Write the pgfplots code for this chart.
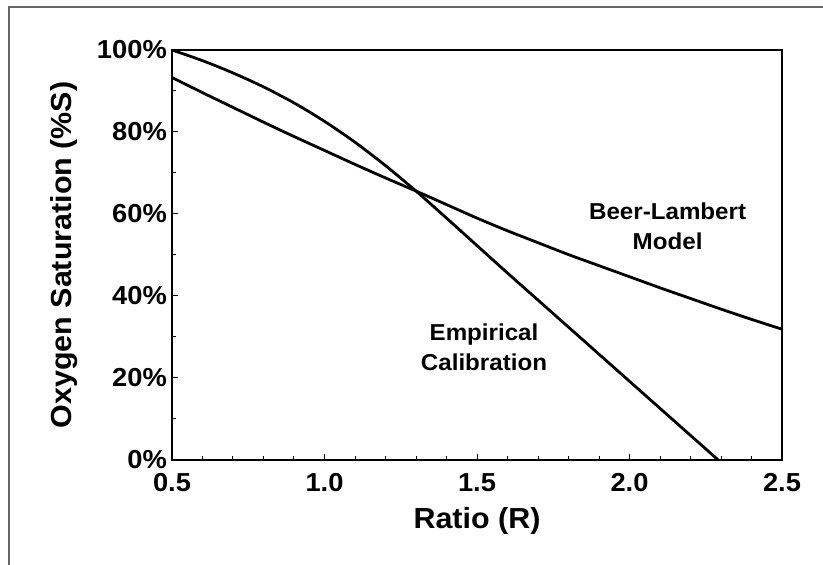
\documentclass[border=0pt]{standalone}
\usepackage{fontspec}
\setmainfont{Liberation Sans}[FakeStretch=1.05]
\usepackage{pgfplots}
\pgfplotsset{compat=1.18}
\begin{document}
\begin{tikzpicture}
\useasboundingbox (0pt,0pt) rectangle (823pt,565pt);
\draw[line width=1.3pt, color=black!60] (9pt,0pt) -- (9pt,558pt) -- (823pt,558pt);
\begin{axis}[
  at={(172pt,105pt)}, anchor=south west,
  width=610pt, height=410pt, scale only axis,
  xmin=0.5, xmax=2.5, ymin=0, ymax=100,
  axis line style={line width=1.5pt},
  xtick={0.5,1.0,1.5,2.0,2.5}, ytick={0,20,40,60,80,100},
  minor x tick num=4, minor y tick num=1,
  tick align=inside, xtick pos=bottom, ytick pos=left,
  major tick length=6pt, minor tick length=4pt,
  every tick/.style={line width=1pt, black},
  /pgf/number format/assume math mode=true,
  xticklabel style={/pgf/number format/fixed, /pgf/number format/fixed zerofill, /pgf/number format/precision=1, inner sep=1pt, yshift=-12pt},
  yticklabel style={inner sep=1pt, xshift=-4pt},
  ticklabel style={font=\fontsize{26}{26}\selectfont\bfseries},
  yticklabel={\pgfmathprintnumber{\tick}\%},
  xlabel={Ratio (R)}, ylabel={Oxygen Saturation (\%S)},
  xlabel style={at={(axis description cs:0.5,-0.1659)}, anchor=base},
  ylabel style={at={(axis description cs:-0.164,0.5)}, anchor=base},
  label style={font=\fontsize{29}{29}\selectfont\bfseries},
]
\addplot[black, line width=2.8pt, smooth] coordinates {
 (0.5,100) (0.6,97.4) (0.7,94.4) (0.8,91.0) (0.9,87.1) (1.0,82.6) (1.1,77.5)
 (1.2,71.8) (1.3,65.6) (1.4,59.0) (1.5,52.3) (1.6,45.6) (1.7,39.0) (1.8,32.4)
 (1.9,25.8) (2.0,19.2) (2.1,12.6) (2.2,6.0) (2.291,0)
};
\addplot[black, line width=2.8pt, smooth] coordinates {
 (0.5,93.3) (0.6,89.6) (0.7,86.0) (0.8,82.4) (0.9,78.9) (1.0,75.5) (1.1,72.1)
 (1.2,68.8) (1.3,65.6) (1.4,62.3) (1.5,59.0) (1.6,55.9) (1.7,53.0) (1.8,50.1)
 (1.9,47.4) (2.0,44.7) (2.1,42.0) (2.2,39.4) (2.3,36.8) (2.4,34.3) (2.5,31.9)
};
\node[align=center, font=\fontsize{23}{30}\selectfont\bfseries] at (axis cs:2.125,57.1) {Beer-Lambert\\Model};
\node[align=center, font=\fontsize{23}{30}\selectfont\bfseries] at (axis cs:1.523,27.4) {Empirical\\Calibration};
\end{axis}
\end{tikzpicture}
\end{document}
